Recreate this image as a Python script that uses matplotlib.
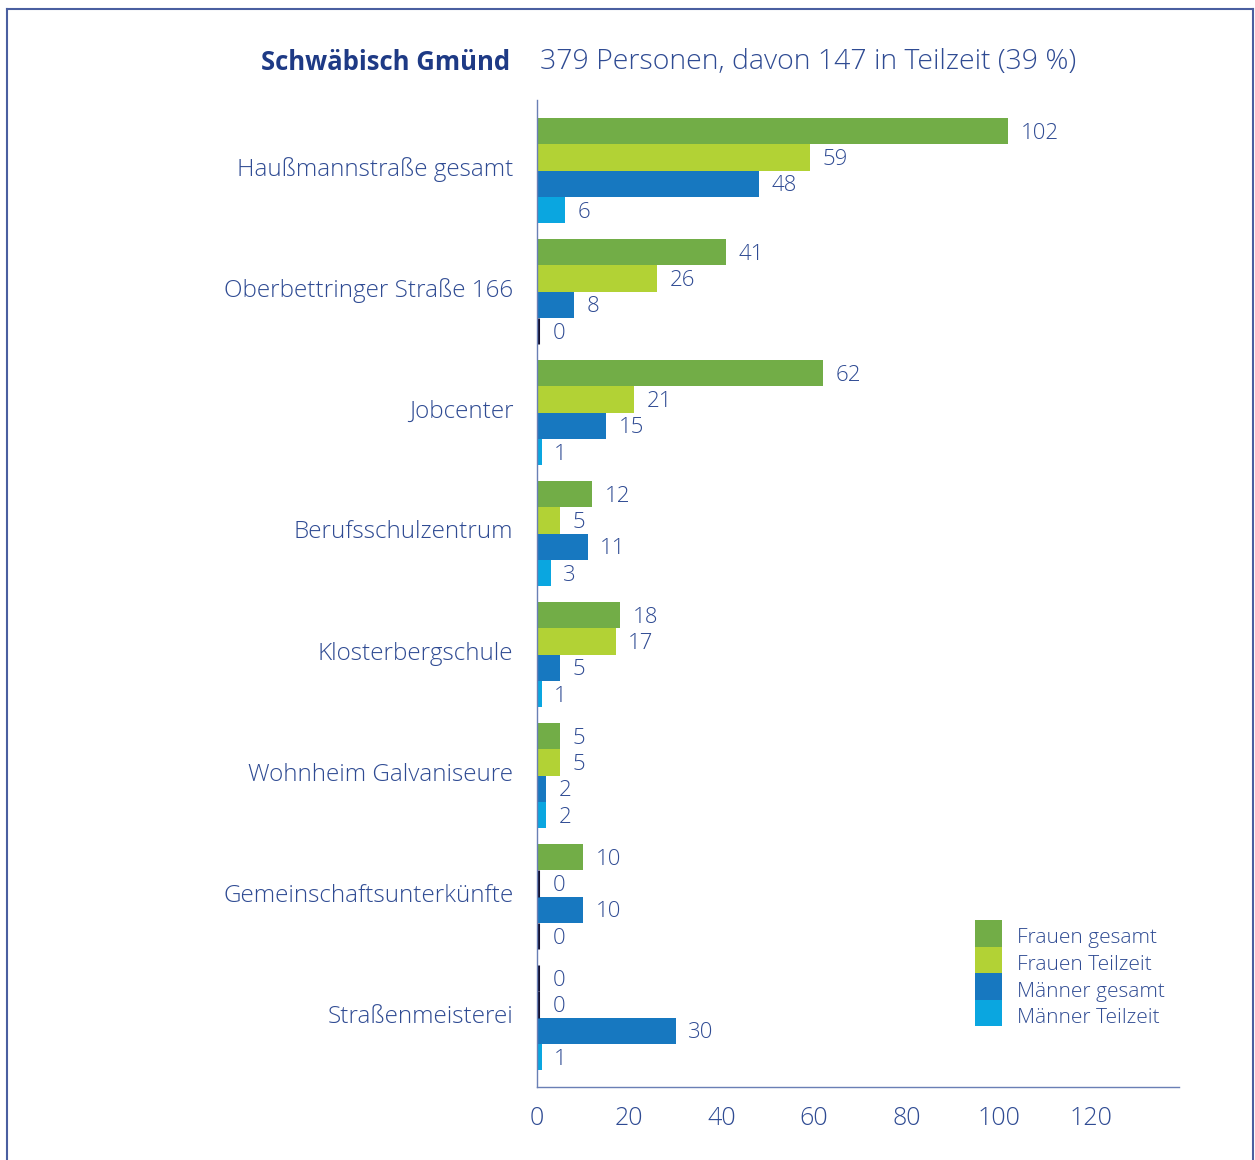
import matplotlib
matplotlib.use("Agg")
import matplotlib.pyplot as plt
import matplotlib.transforms as mtransforms
import numpy as np
from matplotlib.patches import Rectangle
from matplotlib.lines import Line2D

categories = ["Haußmannstraße gesamt", "Oberbettringer Straße 166", "Jobcenter",
              "Berufsschulzentrum", "Klosterbergschule", "Wohnheim Galvaniseure",
              "Gemeinschaftsunterkünfte", "Straßenmeisterei"]
frauen_gesamt = [102, 41, 62, 12, 18, 5, 10, 0]
frauen_teilzeit = [59, 26, 21, 5, 17, 5, 0, 0]
maenner_gesamt = [48, 8, 15, 11, 5, 2, 10, 30]
maenner_teilzeit = [6, 0, 1, 3, 1, 2, 0, 1]
series_names = ["Frauen gesamt", "Frauen Teilzeit", "Männer gesamt", "Männer Teilzeit"]
colors = ["#72AD47", "#B2D235", "#1778C0", "#0AA6E0"]
xticks = [0, 20, 40, 60, 80, 100, 120]

TEXT = "#2F4B93"
W = 300  # light weight
plt.rcParams['font.family'] = ['Open Sans', 'DejaVu Sans']

fig = plt.figure(figsize=(12.55, 11.6), dpi=100)
ax = fig.add_axes([537/1255, 1 - 1087/1160, (1179 - 537)/1255, (1087 - 100)/1160])

h = 26.3 / 121
y = np.arange(len(categories))
series = [frauen_gesamt, frauen_teilzeit, maenner_gesamt, maenner_teilzeit]
for k, (vals, c) in enumerate(zip(series, colors)):
    yy = y + (k - 1.5) * h
    ax.barh(yy, vals, height=h, color=c, edgecolor='none')
    for v, yv in zip(vals, yy):
        if v == 0:
            ax.plot([0.3, 0.3], [yv - h/2, yv + h/2], color="#111133", lw=2.2, solid_capstyle='butt')
        ax.annotate(str(v), (v, yv), xytext=(11 if v == 0 else 9, -1.5), textcoords='offset points',
                    va='center', ha='left', fontsize=16, color=TEXT, fontweight=W)

ax.set_xlim(0, 139)
ax.set_ylim(7 + 69.5/121, -70.5/121)
ax.set_yticks(y)
ax.set_yticklabels(categories, fontsize=17.5, color=TEXT, fontweight=W)
ax.set_xticks(xticks)
ax.set_xticklabels([str(t) for t in xticks], fontsize=18, color=TEXT, fontweight=W)
ax.tick_params(axis='y', length=0, pad=17)
ax.tick_params(axis='x', length=0, pad=14)
# category labels sit a little above the group centre
shift = mtransforms.ScaledTranslation(0, 4/100, fig.dpi_scale_trans)
for lab in ax.get_yticklabels():
    lab.set_transform(lab.get_transform() + shift)
for s in ['top', 'right']:
    ax.spines[s].set_visible(False)
for s in ['left', 'bottom']:
    ax.spines[s].set_color("#6A7FB5")
    ax.spines[s].set_linewidth(1.0)

# legend: stacked colour blocks with labels
for k, (c, n) in enumerate(zip(colors, series_names)):
    top = 920 + 26.5 * k
    fig.add_artist(Rectangle((975/1255, 1 - (top + 26.5)/1160), 27/1255, 26.5/1160,
                             transform=fig.transFigure, facecolor=c, edgecolor='none'))
    fig.text(1017/1255, 1 - (top + 18.5)/1160, n, ha='left', va='center',
             fontsize=15, color=TEXT, fontweight=W)

fig.text(510/1255, 1 - 62/1160, "Schwäbisch Gmünd", ha='right', va='center',
         fontsize=18.5, fontweight='bold', color="#1E3A85")
fig.text(540/1255, 1 - 62/1160, "379 Personen, davon 147 in Teilzeit (39 %)", ha='left', va='center',
         fontsize=20.5, fontweight=W, color=TEXT)

# frame around the chart
fc = "#4A5FA0"
fig.add_artist(Line2D([7/1255, 7/1255], [0, 1 - 9/1160], transform=fig.transFigure, color=fc, lw=1.5))
fig.add_artist(Line2D([7/1255, 1253/1255], [1 - 9/1160, 1 - 9/1160], transform=fig.transFigure, color=fc, lw=1.5))
fig.add_artist(Line2D([1253/1255, 1253/1255], [0, 1 - 9/1160], transform=fig.transFigure, color=fc, lw=1.5))

fig.savefig("out.png", dpi=100)
